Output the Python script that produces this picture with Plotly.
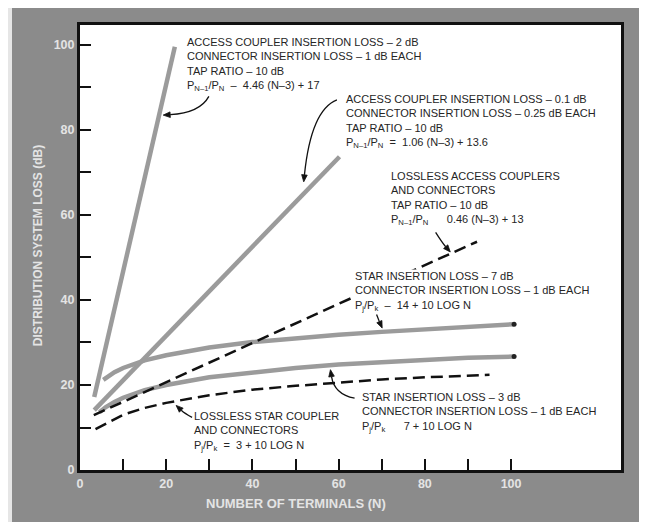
import math
import plotly.graph_objects as go

# ---- data ----
n_access2 = [3.3, 10, 17.5, 22.0]
loss_access2 = [17.2, 46.8, 79.6, 99.6]

n_access01 = [3.3, 20, 40, 60.2]
loss_access01 = [14.1, 31.6, 52.6, 73.7]

n_lossless_access = [3.2, 20, 40, 60, 92.1]
loss_lossless_access = [12.9, 20.7, 29.9, 39.1, 53.7]

n_star7 = [5.4, 8, 10, 15, 20, 30, 40, 50, 60, 70, 80, 90, 100.7]
loss_star7 = [21.2, 23.0, 24.0, 25.8, 27.0, 28.8, 30.1, 31.0, 31.8, 32.5, 33.0, 33.5, 34.3]

n_star3 = [4.5, 6, 8, 10, 15, 20, 30, 40, 50, 60, 70, 80, 90, 100.7]
loss_star3 = [13.6, 14.8, 16.0, 17.0, 18.8, 20.0, 21.8, 23.0, 24.0, 24.8, 25.4, 26.0, 26.4, 26.7]

n_lossless_star = [3.6, 5, 7, 10, 15, 20, 30, 40, 50, 60, 70, 80, 95]
loss_lossless_star = [9.6, 10.3, 11.5, 13.0, 14.6, 15.8, 17.6, 18.9, 19.8, 20.6, 21.3, 21.8, 22.4]

x_ticks = [0, 20, 40, 60, 80, 100]
x_minor = [10, 30, 50, 70, 90]
y_ticks = [0, 20, 40, 60, 80, 100]
y_minor = [10, 30, 50, 70, 90]

GRAY_LINE = "#9b9b9b"
BG = "#8b8b8b"
LIGHT = "#e4e4e4"
TXT = "#252525"
FONT = "Liberation Sans, Arial, sans-serif"

W, H = 639, 514
ML, MR, MT, MB = 72, 26, 17, 52
XR = [0, 125.5]
YR = [0, 104.7]
SX = (W - ML - MR) / (XR[1] - XR[0])
SY = (H - MT - MB) / (YR[1] - YR[0])

fig = go.Figure()

solid = dict(mode="lines", line=dict(color=GRAY_LINE, width=4.5), showlegend=False, hoverinfo="skip")
dashed = dict(mode="lines", line=dict(color="#111111", width=2.5, dash="12px,6px"), showlegend=False, hoverinfo="skip")

fig.add_trace(go.Scatter(x=n_access2, y=loss_access2, **solid))
fig.add_trace(go.Scatter(x=n_access01, y=loss_access01, **solid))
fig.add_trace(go.Scatter(x=n_star7, y=loss_star7, **solid))
fig.add_trace(go.Scatter(x=n_star3, y=loss_star3, **solid))
fig.add_trace(go.Scatter(x=n_lossless_access, y=loss_lossless_access, **dashed))
fig.add_trace(go.Scatter(x=n_lossless_star, y=loss_lossless_star, **dashed))
# dark end caps on the star curves
fig.add_trace(go.Scatter(x=[n_star7[-1], n_star3[-1]], y=[loss_star7[-1], loss_star3[-1]],
                         mode="markers", marker=dict(color="#222", size=5),
                         showlegend=False, hoverinfo="skip"))

# ---- label blocks ----
blocks = [
    (24.6, 102.4, "ACCESS COUPLER INSERTION LOSS – 2 dB<br>CONNECTOR INSERTION LOSS – 1 dB EACH<br>TAP RATIO – 10 dB<br>P<sub>N–1</sub>/P<sub>N</sub>  –  4.46 (N–3) + 17"),
    (61.4, 89.0, "ACCESS COUPLER INSERTION LOSS – 0.1 dB<br>CONNECTOR INSERTION LOSS – 0.25 dB EACH<br>TAP RATIO – 10 dB<br>P<sub>N–1</sub>/P<sub>N</sub>  =  1.06 (N–3) + 13.6"),
    (72.0, 70.9, "LOSSLESS ACCESS COUPLERS<br>AND CONNECTORS<br>TAP RATIO – 10 dB<br>P<sub>N–1</sub>/P<sub>N</sub>      0.46 (N–3) + 13"),
    (63.6, 47.4, "STAR INSERTION LOSS – 7 dB<br>CONNECTOR INSERTION LOSS – 1 dB EACH<br>P<sub>j</sub>/P<sub>k</sub>  –  14 + 10 LOG N"),
    (65.2, 18.9, "STAR INSERTION LOSS – 3 dB<br>CONNECTOR INSERTION LOSS – 1 dB EACH<br>P<sub>j</sub>/P<sub>k</sub>      7 + 10 LOG N"),
    (26.2, 14.4, "LOSSLESS STAR COUPLER<br>AND CONNECTORS<br>P<sub>j</sub>/P<sub>k</sub>  =  3 + 10 LOG N"),
]
annotations = []
for bx, by, txt in blocks:
    annotations.append(dict(x=bx, y=by, xref="x", yref="y", text=txt, showarrow=False,
                            xanchor="left", yanchor="top", align="left",
                            bgcolor="white", borderpad=0,
                            font=dict(family=FONT, size=11, color=TXT)))

# ---- curved pointer arrows: (tail, control, tip) ----
arrows = [
    ((29.9, 87.9), (27.8, 84.0), (19.3, 83.5)),
    ((59.6, 87.1), (53.6, 84.7), (51.9, 67.8)),
    ((82.5, 55.9), (84.0, 53.5), (85.9, 51.3)),
    ((68.8, 36.6), (69.4, 35.0), (70.1, 33.4)),
    ((63.7, 16.9), (59.0, 17.8), (58.1, 23.6)),
    ((26.0, 12.4), (24.3, 13.3), (22.3, 15.2)),
]
shapes = []
HL, HW = 7.0, 2.8  # arrowhead length / half-width in pixels
for (tx, ty), (cx, cy), (hx, hy) in arrows:
    dxp, dyp = (hx - cx) * SX, (hy - cy) * SY
    d = math.hypot(dxp, dyp)
    ux, uy = dxp / d, dyp / d
    bxp, byp = -HL * ux, -HL * uy
    vx, vy = -uy, ux
    base = (hx + bxp / SX, hy + byp / SY)
    c1 = (base[0] + HW * vx / SX, base[1] + HW * vy / SY)
    c2 = (base[0] - HW * vx / SX, base[1] - HW * vy / SY)
    shapes.append(dict(type="path", xref="x", yref="y",
                       path=f"M {tx},{ty} Q {cx},{cy} {base[0]},{base[1]}",
                       line=dict(color="#111", width=1.3)))
    shapes.append(dict(type="path", xref="x", yref="y",
                       path=f"M {hx},{hy} L {c1[0]},{c1[1]} L {c2[0]},{c2[1]} Z",
                       fillcolor="#111", line=dict(color="#111", width=0.8)))

# axis titles
annotations.append(dict(x=(30 - ML) / (W - ML - MR), y=0.503, xref="paper", yref="paper",
                        xanchor="center", yanchor="middle", textangle=-90,
                        text="<b>DISTRIBUTION SYSTEM LOSS (dB)</b>", showarrow=False,
                        font=dict(family=FONT, size=12, color=LIGHT)))
annotations.append(dict(x=50, y=-33 / (H - MT - MB), xref="x", yref="paper",
                        xanchor="center", yanchor="middle",
                        text="<b>NUMBER OF TERMINALS (N)</b>", showarrow=False,
                        font=dict(family=FONT, size=13, color=LIGHT)))

# light scan border strip on the left
shapes.append(dict(type="rect", xref="paper", yref="paper", x0=-ML / (W - ML - MR) - 0.01,
                   x1=(4 - ML) / (W - ML - MR), y0=-0.3, y1=1.2,
                   fillcolor="#e6e6e6", line=dict(width=0), layer="below"))

axis_common = dict(showgrid=False, zeroline=False, showline=True, linecolor="#111", linewidth=3,
                   mirror=True, ticks="inside", ticklen=11, tickwidth=1.5, tickcolor="#111",
                   tickfont=dict(family=FONT, size=12.5, color=LIGHT, weight="bold"))

fig.update_layout(
    width=W, height=H,
    margin=dict(l=ML, r=MR, t=MT, b=MB),
    paper_bgcolor=BG, plot_bgcolor="white",
    xaxis=dict(range=XR, tickvals=x_ticks,
               minor=dict(tickvals=x_minor, ticks="inside", ticklen=11, tickwidth=1.5, tickcolor="#111"),
               **axis_common),
    yaxis=dict(range=YR, tickvals=y_ticks,
               minor=dict(tickvals=y_minor, ticks="inside", ticklen=11, tickwidth=1.5, tickcolor="#111"),
               **axis_common),
    annotations=annotations, shapes=shapes,
)

fig.write_html("out.html")
